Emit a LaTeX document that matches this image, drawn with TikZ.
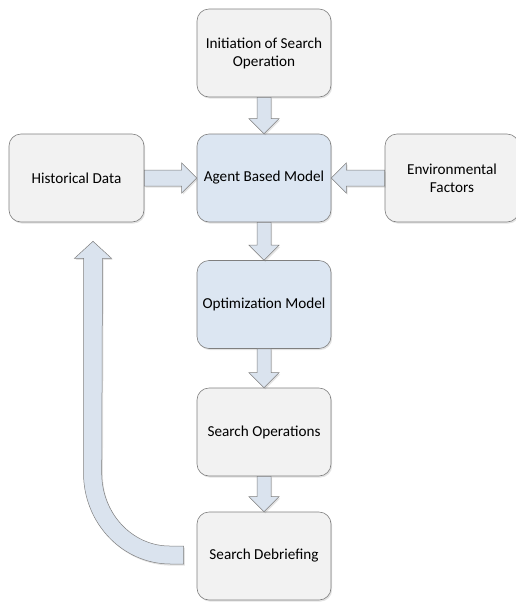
\documentclass[tikz,border=0pt]{standalone}
\usepackage{fontspec}
\setmainfont{Carlito}
\usetikzlibrary{calc,shadows}
\definecolor{boxgray}{HTML}{F2F2F2}
\definecolor{boxblue}{HTML}{DCE6F2}
\definecolor{edgegray}{HTML}{7F7F7F}
\definecolor{arrowfill}{HTML}{DAE3EE}
\tikzset{
  myshadow/.style={drop shadow={opacity=0.22,shadow xshift=1.2pt,shadow yshift=-1.6pt}},
  box/.style={draw=edgegray,line width=0.6pt,fill=boxgray,rounded corners=12pt,
    minimum width=134pt,minimum height=88pt,inner sep=2pt,align=center,
    font=\fontsize{15.2}{18}\selectfont,myshadow},
  bluebox/.style={box,fill=boxblue},
  blockarrow/.style={draw=edgegray,line width=0.5pt,fill=arrowfill,myshadow,line join=miter}
}
\begin{document}
\begin{tikzpicture}[x=1pt,y=-1pt]
\useasboundingbox (0,0) rectangle (516,603);
\node[box] (init) at (264,53) {Initiation of Search\\Operation};
\node[bluebox] (abm) at (264,178) {Agent Based Model};
\node[box,minimum width=135pt] (hist) at (76.5,178) {Historical Data};
\node[box] (env) at (452,178) {Environmental\\Factors};
\node[bluebox] (opt) at (264,304.5) {Optimization Model};
\node[box] (sops) at (264,432) {Search Operations};
\node[box] (debr) at (264,556) {Search Debriefing};

% vertical block arrows
\foreach \a/\b in {init/abm,abm/opt,opt/sops,sops/debr}{
  \draw[blockarrow] let \p1=(\a.south), \p2=(\b.north) in
    (\x1-7,\y1) -- (\x1+7,\y1) -- (\x1+7,\y2+15) -- (\x1+15,\y2+15) -- (\x1,\y2)
    -- (\x1-15,\y2+15) -- (\x1-7,\y2+15) -- cycle;
}
% horizontal: historical -> agent
\draw[blockarrow] let \p1=(hist.east), \p2=(abm.west) in
  (\x1,\y1-8) -- (\x2-15,\y1-8) -- (\x2-15,\y1-15) -- (\x2,\y1) -- (\x2-15,\y1+15)
  -- (\x2-15,\y1+8) -- (\x1,\y1+8) -- cycle;
% horizontal: environmental -> agent
\draw[blockarrow] let \p1=(env.west), \p2=(abm.east) in
  (\x1,\y1-8) -- (\x2+15,\y1-8) -- (\x2+15,\y1-15) -- (\x2,\y1) -- (\x2+15,\y1+15)
  -- (\x2+15,\y1+8) -- (\x1,\y1+8) -- cycle;
% big curved return arrow: debriefing -> historical
\coordinate (retend) at ($(debr.west)+(-13,-1)$);
\coordinate (tip) at ($(hist.south)+(16.5,19)$);
\draw[blockarrow] let \p1=(retend), \p2=(tip) in
  (\x1,\y1+9) -- (\x1-14,\y1+9)
  arc[start angle=270,end angle=180,x radius=68pt,y radius=73pt]
  -- (\x2+9.5,\y2-17) -- (\x2+18.5,\y2-17) -- (\x2,\y2) -- (\x2-18.5,\y2-17)
  -- (\x2-9.5,\y2-17)
  -- (\x2-9.5,\y1+82)
  arc[start angle=180,end angle=270,x radius=87pt,y radius=91pt]
  -- (\x1,\y1-9) -- cycle;
\end{tikzpicture}
\end{document}
